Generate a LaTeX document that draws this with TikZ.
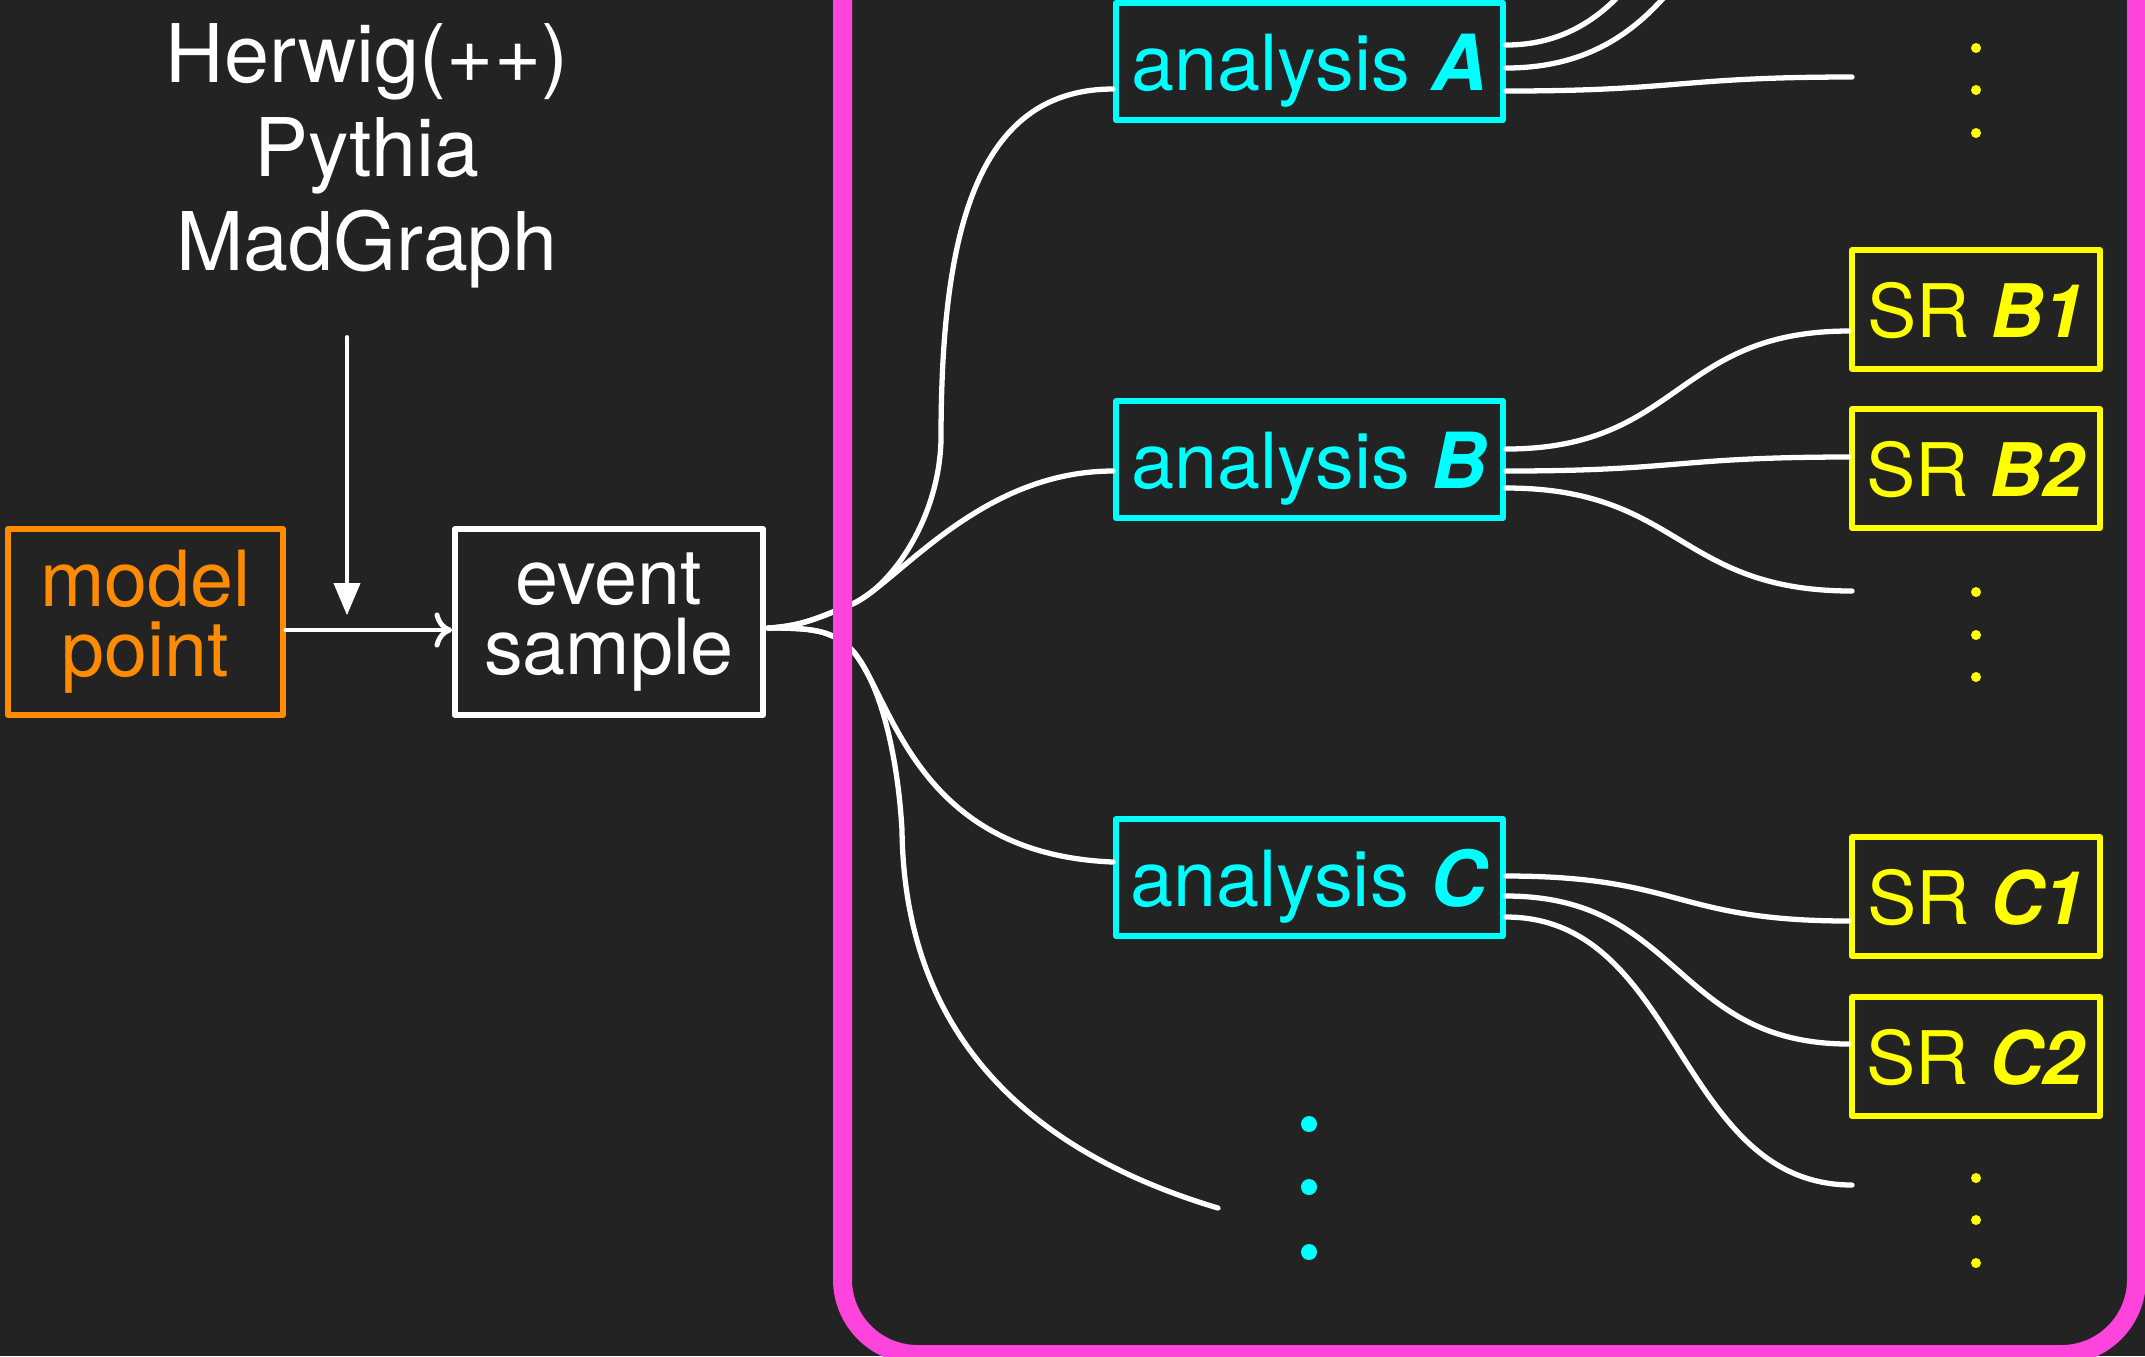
\documentclass[tikz,border=0pt]{standalone}
\usepackage{fontspec}
\setmainfont{TeX Gyre Heros}
\usetikzlibrary{arrows,arrows.meta,calc}
\definecolor{tableau}{RGB}{35,35,36}
\definecolor{orangep}{RGB}{255,140,0}
\definecolor{cyanp}{RGB}{0,255,255}
\definecolor{jaune}{RGB}{255,255,0}
\definecolor{rose}{RGB}{255,68,221}
\begin{document}
\begin{tikzpicture}[line cap=round,line join=round,>=triangle 45,x=0.01cm,y=-0.01cm,
	boite/.style={draw,line width=1.6pt,inner sep=0pt,align=center,font=\fontsize{22}{20}\selectfont},
	ana/.style={boite,cyanp,minimum width=3.87cm,minimum height=1.17cm,text height=0.66cm,text depth=0.08cm},
	sr/.style={boite,jaune,minimum width=2.48cm,minimum height=1.19cm,text height=0.62cm,text depth=0.06cm,font=\fontsize{21}{21}\selectfont},
	gen/.style={white,anchor=base,font=\fontsize{23}{26}\selectfont},
	fil/.style={white,line width=1.5pt}]
			\fill[tableau] (0,0) rectangle (2145,1356);
			\clip (0,0) rectangle (2145,1356);
			%generateurs
			\node[gen] (herwig) at (367,82) {Herwig(++)};
			\node[gen] (pythia) at (367,176) {Pythia};
			\node[gen] (madgraph) at (367,270) {MadGraph};
			\coordinate (haut) at (347,337);
			\coordinate (bas) at (347,615);
			\draw[->,white,line width=1.1pt] (haut)--(bas);
			%boites de gauche
			\node[boite,orangep,minimum width=2.75cm,minimum height=1.86cm] (model) at (145.5,622) {model\\point};
			\node[boite,white,minimum width=3.08cm,minimum height=1.86cm] (event) at (609,622) {event\\sample};
			\draw[-{To[length=5pt,width=10pt]},white,line width=1.4pt] ($(model.east)+(0,8)$)--($(event.west)+(0,8)$);
			%analyses
			\node[ana] (anaA) at (1309.5,61.5) {analysis \textbf{\textit{A}}};
			\node[ana] (anaB) at (1309.5,459.5) {analysis \textbf{\textit{B}}};
			\node[ana] (anaC) at (1309.5,877.5) {analysis \textbf{\textit{C}}};
			%regions
			\node[sr] (srB1) at (1976,309.5) {SR \textbf{\textit{B1}}};
			\node[sr] (srB2) at (1976,468.5) {SR \textbf{\textit{B2}}};
			\node[sr] (srC1) at (1976,896.5) {SR \textbf{\textit{C1}}};
			\node[sr] (srC2) at (1976,1056.5) {SR \textbf{\textit{C2}}};
			\coordinate (srA1) at (1852,-290);
			\coordinate (srA2) at (1852,-170);
			\coordinate (finA) at (1852,77);
			\coordinate (finB) at (1852,591);
			\coordinate (finC) at (1852,1185);
			\coordinate (finAna) at (1218,1208);
			%liaisons event -> analyses
			\coordinate (dep) at ($(event.east)+(2,6)$);
			\coordinate (fourchH) at (850,605);
			\coordinate (fourchB) at (852,650);
			\coordinate (colA) at (941,440);
			\coordinate (colF) at (902,830);
			\draw[fil] (dep) .. controls +(35,-2) and +(-30,12) .. (fourchH)
				.. controls +(40,-16) and +(-2,80) .. (colA)
				.. controls +(0,-200) and +(-140,0) .. ($(anaA.west)+(0,27.5)$);
			\draw[fil] (dep) .. controls +(35,-2) and +(-30,12) .. (fourchH)
				.. controls +(45,-18) and +(-136,0) .. ($(anaB.west)+(0,11.5)$);
			\draw[fil] (dep) .. controls +(45,0) and +(-20,-20) .. (fourchB)
				.. controls +(40,45) and +(-200,-8) .. ($(anaC.west)+(0,-15.5)$);
			\draw[fil] (dep) .. controls +(45,0) and +(-20,-20) .. (fourchB)
				.. controls +(30,34) and +(-4,-70) .. (colF)
				.. controls +(2,170) and +(-228,-68) .. (finAna);
			%liaisons analyses -> SR
			\draw[fil] ($(anaA.east)+(0,-16.5)$) .. controls +(200,0) and +(-160,0) .. (srA1);
			\draw[fil] ($(anaA.east)+(0,6.5)$) .. controls +(210,0) and +(-150,0) .. (srA2);
			\draw[fil] ($(anaA.east)+(0,29.5)$) .. controls +(175,0) and +(-175,0) .. (finA);
			\draw[fil] ($(anaB.east)+(0,-10.5)$) .. controls +(175,0) and +(-175,0) .. ($(srB1.west)+(0,21.5)$);
			\draw[fil] ($(anaB.east)+(0,11.5)$) .. controls +(175,0) and +(-175,0) .. ($(srB2.west)+(0,-11.5)$);
			\draw[fil] ($(anaB.east)+(0,28.5)$) .. controls +(175,0) and +(-175,0) .. (finB);
			\draw[fil] ($(anaC.east)+(0,-1.5)$) .. controls +(175,0) and +(-175,0) .. ($(srC1.west)+(0,24.5)$);
			\draw[fil] ($(anaC.east)+(0,18.5)$) .. controls +(175,0) and +(-175,0) .. ($(srC2.west)+(0,-12.5)$);
			\draw[fil] ($(anaC.east)+(0,39.5)$) .. controls +(175,0) and +(-175,0) .. (finC);
			%cadre
			\draw[rose,line width=5.4pt,rounded corners=0.75cm] (842.5,-200) rectangle (2136.5,1354.5);
			%points de suspension
			\foreach \y in {48,90,133,592,635,677,1178,1220,1263}
				\fill[jaune] (1976,\y) circle (0.05cm);
			\foreach \y in {1124,1187,1252}
				\fill[cyanp] (1309,\y) circle (0.08cm);
\end{tikzpicture}
\end{document}
